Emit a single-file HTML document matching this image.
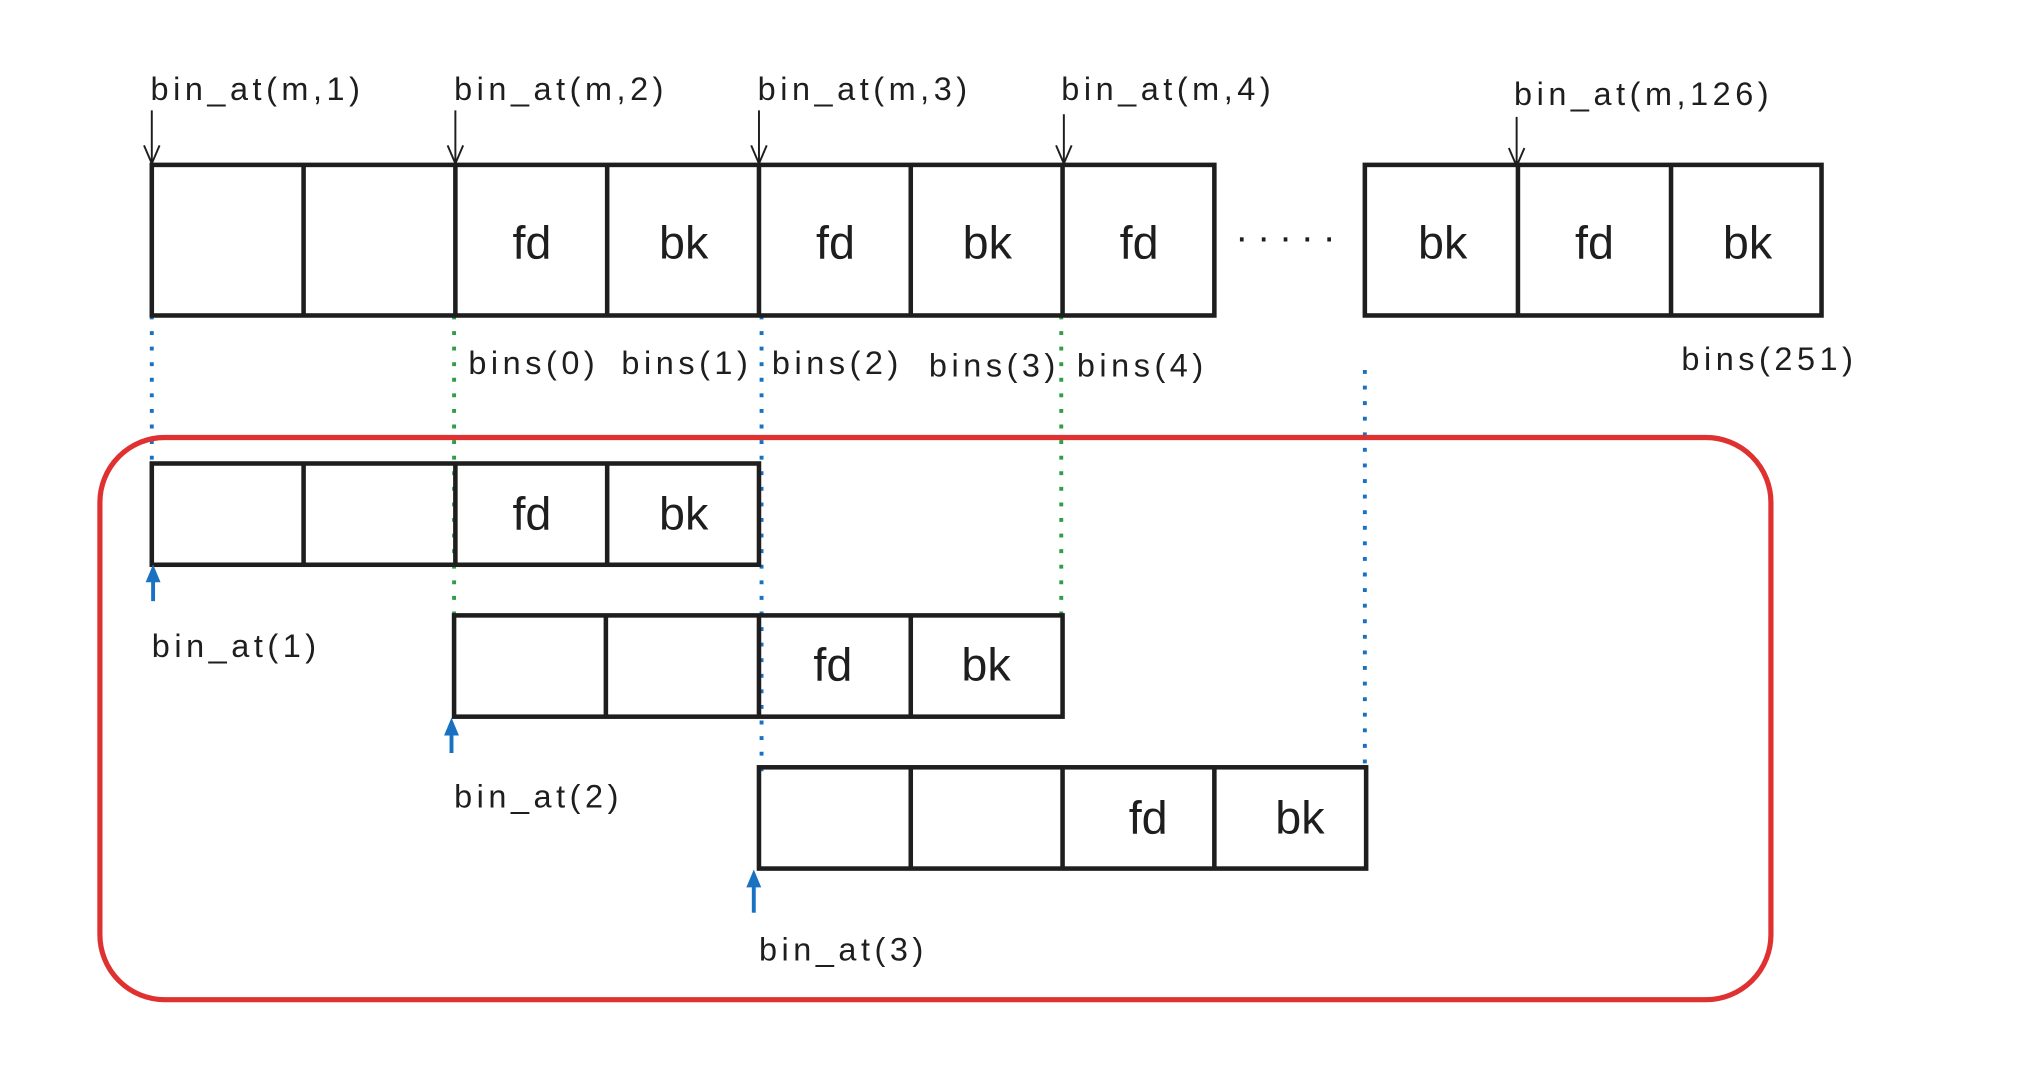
<!DOCTYPE html>
<html><head><style>html,body{margin:0;padding:0;background:#fff}svg{display:block}
text{font-family:"Liberation Sans",sans-serif;fill:#1e1e1e}
.l{font-size:25px;letter-spacing:3.5px}.c{font-size:36px;text-anchor:middle}</style></head><body>
<svg width="2033" height="1075" viewBox="0 0 1567 828" preserveAspectRatio="none" xmlns="http://www.w3.org/2000/svg">
<g fill="none" stroke-width="3">
<path d="M117 243V357M587 243V600M1052 285V590" stroke="#1971c2" stroke-dasharray="3 9"/>
<path d="M350 243V473M818 243V473" stroke="#2f9e44" stroke-dasharray="3 9"/>
</g>
<rect x="77" y="337" width="1288" height="433" rx="50" fill="none" stroke="#e03131" stroke-width="4"/>
<g stroke="#1e1e1e" stroke-width="3.5" fill="none">
<rect x="117" y="127" width="819" height="116"/>
<path d="M234 127V243M351 127V243M468 127V243M585 127V243M702 127V243M819 127V243"/>
<rect x="1052" y="127" width="352" height="116"/>
<path d="M1170 127V243M1288 127V243"/>
<rect x="117" y="357" width="468" height="78"/>
<path d="M234 357V435M351 357V435M468 357V435"/>
<rect x="350" y="474" width="469" height="78"/>
<path d="M467 474V552M585 474V552M702 474V552"/>
<rect x="585" y="591" width="468" height="78"/>
<path d="M702 591V669M819 591V669M936 591V669"/>
</g>
<g stroke="#1e1e1e" stroke-width="1.5" fill="none">
<path d="M117 85V126M111 112L117 126L123 112"/>
<path d="M351 85V126M345 112L351 126L357 112"/>
<path d="M585 85V126M579 112L585 126L591 112"/>
<path d="M820 88V126M814 112L820 126L826 112"/>
<path d="M1169 90V128M1163 114L1169 128L1175 114"/>
</g>
<g stroke="#1971c2" stroke-width="3" fill="#1971c2">
<path d="M118 463V445"/><path d="M113 448L118 436L123 448Z" stroke-width="1"/>
<path d="M348 580V563"/><path d="M343 566L348 554L353 566Z" stroke-width="1"/>
<path d="M581 703V680"/><path d="M576 683L581 671L586 683Z" stroke-width="1"/>
</g>
<text x="953" y="186" style="font-size:30px;letter-spacing:8.5px">.....</text>
<g class="l">
<text x="116" y="77">bin_at(m,1)</text>
<text x="350" y="77">bin_at(m,2)</text>
<text x="584" y="77">bin_at(m,3)</text>
<text x="818" y="77">bin_at(m,4)</text>
<text x="1167" y="81">bin_at(m,126)</text>
<text x="361" y="288">bins(0)</text>
<text x="479" y="288">bins(1)</text>
<text x="595" y="288">bins(2)</text>
<text x="716" y="290">bins(3)</text>
<text x="830" y="290">bins(4)</text>
<text x="1296" y="285">bins(251)</text>
<text x="117" y="506">bin_at(1)</text>
<text x="350" y="622">bin_at(2)</text>
<text x="585" y="740">bin_at(3)</text>
</g>
<g class="c">
<text x="410" y="199">fd</text><text x="527" y="199">bk</text>
<text x="644" y="199">fd</text><text x="761" y="199">bk</text>
<text x="878" y="199">fd</text>
<text x="1112" y="199">bk</text><text x="1229" y="199">fd</text><text x="1347" y="199">bk</text>
<text x="410" y="408">fd</text><text x="527" y="408">bk</text>
<text x="642" y="524">fd</text><text x="760" y="524">bk</text>
<text x="885" y="642">fd</text><text x="1002" y="642">bk</text>
</g>
</svg>
</body></html>
